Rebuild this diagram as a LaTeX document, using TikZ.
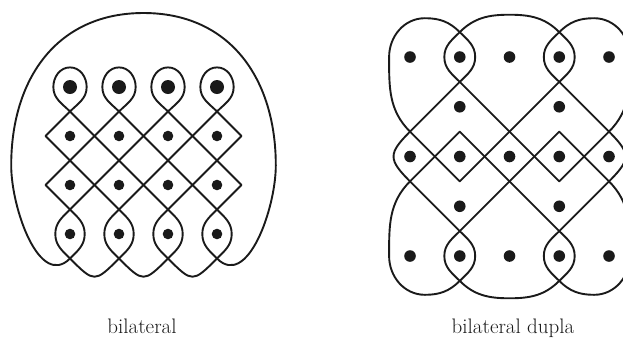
\documentclass[tikz,border=0pt]{standalone}
\usepackage{amsmath,amssymb}
\usepackage{xcolor}
\usepackage{fontspec}
\setmainfont{Latin Modern Roman}

\definecolor{kolam}{HTML}{1A1A1A}
\tikzset{
  fio/.style={draw=kolam, line width=1.9pt, line join=round, line cap=round},
  ponto/.style={fill=kolam},
  rotulo/.style={anchor=base, text=kolam, font=\fontsize{21}{25}\selectfont},
}

\begin{document}
\begin{tikzpicture}[x=1pt,y=1pt]
    \useasboundingbox (0,0) rectangle (623,-341);
    \clip (0,0) rectangle (623,-341);

    % Bilateral
    \begin{scope}[shift={(70,-87)},x=49pt,y=49pt]
      % pontos
      \foreach \i in {0,...,3} {
        \fill[ponto] (\i,0) circle (7pt);
        \foreach \j in {1,2,3} \fill[ponto] (\i,-\j) circle (5.3pt);
      }
      % malha diagonal
      \draw[fio] (0,-0.5) -- (-0.5,-1) -- (1,-2.5);
      \draw[fio] (0,-0.5) -- (2,-2.5);
      \draw[fio] (1,-0.5) -- (-0.5,-2) -- (0,-2.5);
      \draw[fio] (1,-0.5) -- (3,-2.5);
      \draw[fio] (2,-0.5) -- (0,-2.5);
      \draw[fio] (2,-0.5) -- (3.5,-2) -- (3,-2.5);
      \draw[fio] (3,-0.5) -- (1,-2.5);
      \draw[fio] (3,-0.5) -- (3.5,-1) -- (2,-2.5);
      % gotas no topo
      \foreach \i in {0,...,3}
        \draw[fio] (\i,-0.5) to[out=45,in=-90] (\i+0.34,0) to[out=90,in=0] (\i,0.4)
          to[out=180,in=90] (\i-0.34,0) to[out=-90,in=135] (\i,-0.5);
      % olhos embaixo
      \foreach \i in {0,...,3}
        \draw[fio] (\i,-2.5) to[out=-45,in=90] (\i+0.3,-3) to[out=-90,in=45] (\i,-3.5)
          to[out=135,in=-90] (\i-0.3,-3) to[out=90,in=-135] (\i,-2.5);
      % arcos de baixo
      \foreach \i in {0,1,2}
        \draw[fio] (\i,-3.5) to[out=-45,in=-135,looseness=1.8] (\i+1,-3.5);
      % laco externo
      \draw[fio] (0,-3.5) to[out=-135,in=-90] (-1.2,-1.6)
        to[out=90,in=180,looseness=1.1] (1.5,1.51)
        to[out=0,in=90,looseness=1.1] (4.2,-1.6)
        to[out=-90,in=-45] (3,-3.5);
    \end{scope}

    % Bilateral dupla
    \begin{scope}[shift={(410,-57)},x=49.75pt,y=49.75pt]
      % pontos
      \foreach \j in {0,2,4}
        \foreach \i in {0,...,4} \fill[ponto] (\i,-\j) circle (5.8pt);
      \foreach \j in {1,3}
        \foreach \i in {1,3} \fill[ponto] (\i,-\j) circle (5.8pt);
      % diagonais
      \draw[fio] (1,-0.5) -- (0,-1.5) to[out=-135,in=135,looseness=1.6] (0,-2.5) -- (1,-3.5);
      \draw[fio] (3,-0.5) -- (4,-1.5) to[out=-45,in=45,looseness=1.6] (4,-2.5) -- (3,-3.5);
      \draw[fio] (1,-0.5) -- (3,-2.5) -- (4,-1.5);
      \draw[fio] (3,-0.5) -- (1,-2.5) -- (0,-1.5);
      \draw[fio] (1,-3.5) -- (3,-1.5) -- (4,-2.5);
      \draw[fio] (3,-3.5) -- (1,-1.5) -- (0,-2.5);
      % olhos
      \foreach \i in {1,3}
        \foreach \c in {0,-4}
          \draw[fio] (\i,\c+0.5) to[out=-45,in=90] (\i+0.31,\c) to[out=-90,in=45] (\i,\c-0.5)
            to[out=135,in=-90] (\i-0.31,\c) to[out=90,in=-135] (\i,\c+0.5);
      % lacos de cima
      \draw[fio] (1,0.5) to[out=135,in=0] (0.3,0.78) to[out=180,in=90] (-0.42,0)
        to[out=-90,in=135] (0,-1.5);
      \draw[fio] (1,0.5) to[out=45,in=180] (2,0.85) to[out=0,in=135] (3,0.5);
      \draw[fio] (3,0.5) to[out=45,in=180] (3.7,0.78) to[out=0,in=90] (4.42,0)
        to[out=-90,in=45] (4,-1.5);
      % lacos de baixo
      \draw[fio] (1,-4.5) to[out=-135,in=0] (0.3,-4.78) to[out=180,in=-90] (-0.42,-4)
        to[out=90,in=-135] (0,-2.5);
      \draw[fio] (1,-4.5) to[out=-45,in=180] (2,-4.85) to[out=0,in=-135] (3,-4.5);
      \draw[fio] (3,-4.5) to[out=-45,in=180] (3.7,-4.78) to[out=0,in=-90] (4.42,-4)
        to[out=90,in=-45] (4,-2.5);
    \end{scope}

    % rotulos
    \node[rotulo] (bilateral) at (142,-333) {bilateral};
    \node[rotulo] (dupla) at (513,-333) {bilateral dupla};

  \end{tikzpicture}
\end{document}
